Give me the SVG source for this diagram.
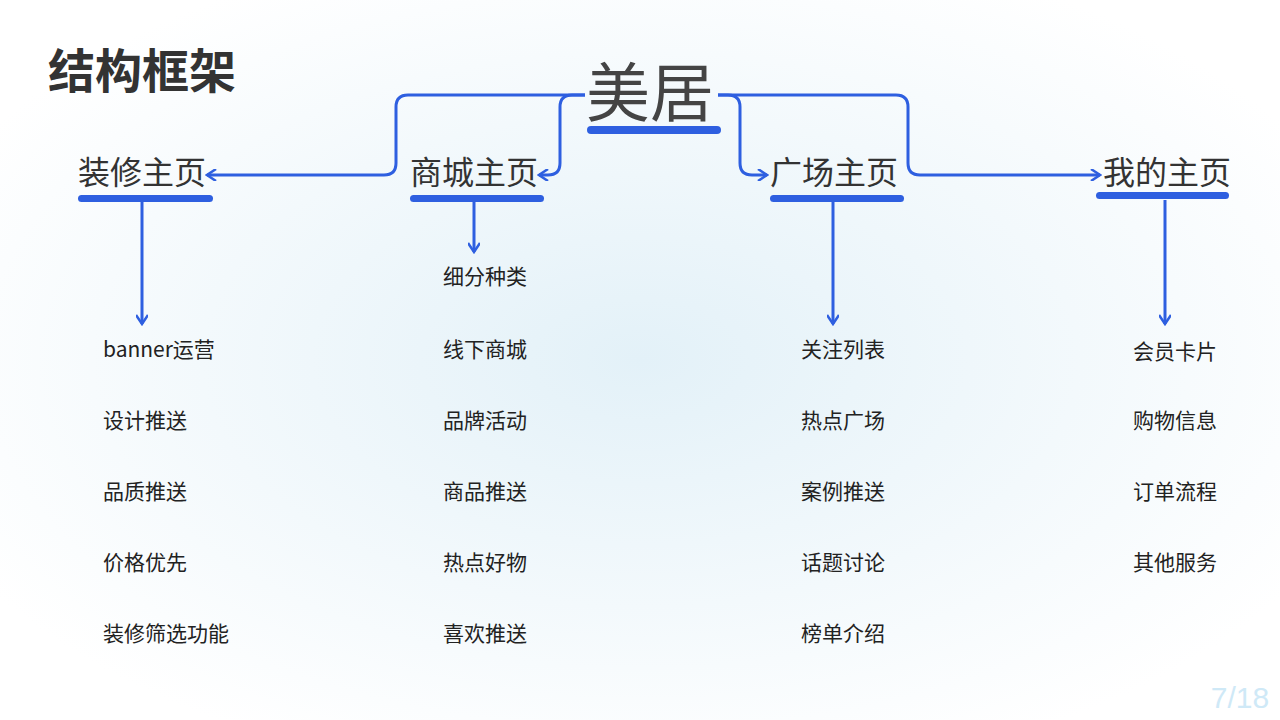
<svg xmlns="http://www.w3.org/2000/svg" width="1280" height="720" viewBox="0 0 1280 720">
<defs>
<radialGradient id="bg" cx="0.5" cy="0.5" r="0.6">
<stop offset="0" stop-color="#e3f1f8"/><stop offset="1" stop-color="#ffffff"/>
</radialGradient>
<marker id="ah" viewBox="0 0 12 12" refX="10" refY="6" markerWidth="12" markerHeight="12" markerUnits="userSpaceOnUse" orient="auto">
<path d="M1,0 L10,6 L1,12" fill="none" stroke="#2e5fe0" stroke-width="2.5"/>
</marker>
<style>
.c{fill:none;stroke:#2e5fe0;stroke-width:3;marker-end:url(#ah)}
.bar{fill:#2e5fe0}
.h{font-family:"Noto Sans CJK SC","Noto Sans",sans-serif;font-size:32px;fill:#333}
.i{font-family:"Noto Sans CJK SC","Noto Sans",sans-serif;font-size:21px;fill:#222}
</style>
</defs>
<rect width="1280" height="720" fill="url(#bg)"/>
<text x="48" y="88" font-family="Noto Sans CJK SC,sans-serif" font-size="47" font-weight="bold" fill="#333">结构框架</text>
<g id="connectors">
<path class="c" d="M585,95 H408 Q396,95 396,107 V163 Q396,175 384,175 H207"/>
<path class="c" d="M585,95 H572 Q560,95 560,107 V163 Q560,175 548,175 H539"/>
<path class="c" d="M718,95 H728 Q740,95 740,107 V163 Q740,175 752,175 H767"/>
<path class="c" d="M718,95 H896 Q908,95 908,107 V163 Q908,175 920,175 H1100"/>
<path class="c" d="M142,202 V324"/>
<path class="c" d="M474,202 V252"/>
<path class="c" d="M833,202 V324"/>
<path class="c" d="M1165,200 V324"/>
</g>
<g id="root"><text x="650" y="116" text-anchor="middle" font-family="Noto Sans CJK SC,sans-serif" font-size="64" fill="#444">美居</text><rect class="bar" x="587" y="126" width="134" height="8" rx="4"/></g>
<g id="n1"><text class="h" x="78" y="184">装修主页</text><rect class="bar" x="78" y="195" width="135" height="7" rx="3.5"/></g>
<g id="n2"><text class="h" x="410" y="184">商城主页</text><rect class="bar" x="410" y="195" width="134" height="7" rx="3.5"/></g>
<g id="n3"><text class="h" x="770" y="184">广场主页</text><rect class="bar" x="770" y="195" width="134" height="7" rx="3.5"/></g>
<g id="n4"><text class="h" x="1103" y="184">我的主页</text><rect class="bar" x="1096" y="192" width="133" height="7" rx="3.5"/></g>
<g id="l1">
<text class="i" x="103" y="357">banner运营</text><text class="i" x="103" y="428">设计推送</text><text class="i" x="103" y="499">品质推送</text><text class="i" x="103" y="570">价格优先</text><text class="i" x="103" y="641">装修筛选功能</text>
</g>
<g id="l2">
<text class="i" x="443" y="284">细分种类</text><text class="i" x="443" y="357">线下商城</text><text class="i" x="443" y="428">品牌活动</text><text class="i" x="443" y="499">商品推送</text><text class="i" x="443" y="570">热点好物</text><text class="i" x="443" y="641">喜欢推送</text>
</g>
<g id="l3">
<text class="i" x="801" y="357">关注列表</text><text class="i" x="801" y="428">热点广场</text><text class="i" x="801" y="499">案例推送</text><text class="i" x="801" y="570">话题讨论</text><text class="i" x="801" y="641">榜单介绍</text>
</g>
<g id="l4">
<text class="i" x="1133" y="359">会员卡片</text><text class="i" x="1133" y="428">购物信息</text><text class="i" x="1133" y="499">订单流程</text><text class="i" x="1133" y="570">其他服务</text>
</g>
<text x="1240" y="708" text-anchor="middle" font-family="Liberation Sans,sans-serif" font-size="30" fill="#cfe9f7">7/18</text>
</svg>
